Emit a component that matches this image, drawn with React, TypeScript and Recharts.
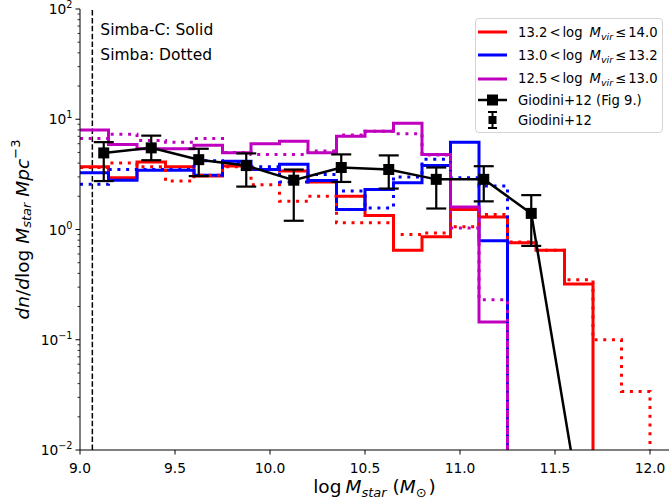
import React from 'react';
import { ErrorBar, Legend, Line, LineChart, ReferenceLine, XAxis, YAxis } from 'recharts';

const FONT = "'DejaVu Sans', sans-serif";

// histogram bin edges in log M_star (bins of 0.15 dex)
const binEdges = [
  9.0, 9.15, 9.3, 9.45, 9.6, 9.75, 9.9, 10.05, 10.2, 10.35, 10.5,
  10.65, 10.8, 10.95, 11.1, 11.25, 11.4, 11.55, 11.7, 11.85, 12.0,
];

// Simba-C (solid), one value per bin, 0 = empty bin
const redSolid = [3.7, 2.95, 4.1, 3.7, 3.05, 3.77, 3.5, 3.39, 2.7, 2.0, 1.34, 0.65, 0.86, 1.52, 1.3, 0.76, 0.65, 0.32, 0, 0];
const blueSolid = [3.27, 2.8, 3.44, 3.45, 3.1, 4.17, 3.5, 3.9, 2.78, 1.52, 2.31, 2.66, 3.8, 6.2, 0.79, 0, 0, 0, 0, 0];
const magentaSolid = [8.0, 5.9, 5.4, 5.4, 5.8, 4.98, 6.0, 6.3, 4.98, 7.0, 7.8, 9.2, 4.8, 1.6, 0.145, 0, 0, 0, 0, 0];

// Simba (dotted)
const redDotted = [3.65, 4.0, 3.7, 2.75, 3.1, 3.7, 2.55, 1.8, 2.0, 1.15, 1.15, 0.9, 0.93, 1.06, 1.37, 0.77, 0.65, 0.35, 0.1, 0.034];
const blueDotted = [2.57, 3.5, 3.5, 3.5, 4.2, 4.0, 3.7, 2.7, 3.15, 2.23, 1.57, 3.0, 4.33, 2.95, 2.48, 0, 0, 0, 0, 0];
const magentaDotted = [6.7, 7.3, 6.4, 6.2, 6.7, 5.0, 4.8, 4.8, 5.15, 7.2, 7.8, 7.4, 4.75, 1.03, 0.23, 0, 0, 0, 0, 0];

// Giodini+12 (Fig 9.), last point lies below the plotted range
const giodiniX = [9.125, 9.375, 9.625, 9.875, 10.125, 10.375, 10.625, 10.875, 11.125, 11.375, 11.625];
const giodiniY = [4.95, 5.5, 4.3, 3.8, 2.8, 3.65, 3.5, 2.85, 2.85, 1.4, 0.0037];
const giodiniHi = [6.2, 7.1, 5.4, 4.9, 3.5, 4.8, 4.7, 3.65, 3.75, 2.05, null];
const giodiniLo = [2.75, 4.25, 3.05, 2.45, 1.2, 2.7, 2.35, 1.55, 1.8, 0.71, null];

const massRanges = [
  ['13.2', '14.0'],
  ['13.0', '13.2'],
  ['12.5', '13.0'],
];
const rangeColors = ['#ff0000', '#0000ff', '#bf00bf'];

const xTicks = [9.0, 9.5, 10.0, 10.5, 11.0, 11.5, 12.0];
const yMajor = [0.01, 0.1, 1, 10, 100];
const yMinorSteps = [2, 3, 4, 5, 6, 7, 8, 9];
const yTicks = [
  ...yMajor,
  ...yMajor.slice(0, -1).flatMap((d) => yMinorSteps.map((k) => +(k * d).toPrecision(2))),
];

const massLimit = 9.065;
const FLOOR = 1e-4; // empty bins fall below the axis

const histRows = (values: number[]) =>
  binEdges.map((x, i) => ({ x, y: i < values.length && values[i] > 0 ? values[i] : FLOOR }));

const giodiniRows = giodiniX.map((x, i) => {
  const hi = giodiniHi[i];
  const lo = giodiniLo[i];
  return {
    x,
    y: giodiniY[i],
    err: hi == null || lo == null ? null : [giodiniY[i] - lo, hi - giodiniY[i]],
  };
});

const solidSeries = [redSolid, blueSolid, magentaSolid];
const dottedSeries = [redDotted, blueDotted, magentaDotted];

function XTick(props: any) {
  const { x, y, payload } = props;
  return (
    <g>
      <line x1={x} x2={x} y1={y} y2={y + 4.5} stroke="#000" strokeWidth={1} />
      <text x={x} y={y + 23} textAnchor="middle" fontFamily={FONT} fontSize={13.8} fill="#000">
        {payload.value.toFixed(1)}
      </text>
    </g>
  );
}

function YTick(props: any) {
  const { x, y, payload } = props;
  const v = payload.value;
  if (!yMajor.includes(v)) {
    return <line x1={x} x2={x - 2.5} y1={y} y2={y} stroke="#000" strokeWidth={0.8} />;
  }
  const exp = Math.round(Math.log10(v));
  return (
    <g>
      <line x1={x} x2={x - 4.5} y1={y} y2={y} stroke="#000" strokeWidth={1} />
      <text x={x - 7.5} y={y + 5} textAnchor="end" fontFamily={FONT} fontSize={13.8} fill="#000">
        10
        <tspan dy={-6} fontSize={9.7}>
          {exp < 0 ? `\u2212${-exp}` : exp}
        </tspan>
      </text>
    </g>
  );
}

function XLabel(props: any) {
  const { x, width } = props.viewBox;
  return (
    <text x={x + width / 2} y={493} textAnchor="middle" fontFamily={FONT} fontSize={18.5} fill="#000">
      log
      <tspan dx={4} fontStyle="italic">M</tspan>
      <tspan fontStyle="italic" fontSize={13} dy={4}>star</tspan>
      <tspan dy={-4}> (</tspan>
      <tspan fontStyle="italic">M</tspan>
      <tspan fontSize={13} dy={4}>{'\u2299'}</tspan>
      <tspan dy={-4} dx={2}>)</tspan>
    </text>
  );
}

function YLabel(props: any) {
  const { y, height } = props.viewBox;
  const cx = 22;
  const cy = y + height / 2;
  return (
    <text
      x={cx}
      y={cy}
      transform={`rotate(-90, ${cx}, ${cy})`}
      textAnchor="middle"
      dominantBaseline="central"
      fontFamily={FONT}
      fontSize={18.5}
      fill="#000"
    >
      <tspan fontStyle="italic">dn</tspan>
      <tspan>/</tspan>
      <tspan fontStyle="italic">d</tspan>
      <tspan>log</tspan>
      <tspan dx={6} fontStyle="italic">M</tspan>
      <tspan fontStyle="italic" fontSize={13} dy={4}>star</tspan>
      <tspan dx={6} dy={-4} fontStyle="italic">Mpc</tspan>
      <tspan fontSize={13} dy={-7}>{'\u22123'}</tspan>
    </text>
  );
}

function SimbaNote(props: any) {
  const { x } = props.viewBox;
  return (
    <g fontFamily={FONT} fontSize={15.5} fill="#000">
      <text x={x + 8} y={35}>Simba-C: Solid</text>
      <text x={x + 8} y={60}>Simba: Dotted</text>
    </g>
  );
}

function MassLabel({ lo, hi }: { lo: string; hi: string }) {
  return (
    <span>
      {lo}
      <span style={{ margin: '0 2px' }}>&lt;</span>
      log<span style={{ marginLeft: 7, fontStyle: 'italic' }}>M</span>
      <span style={{ fontStyle: 'italic', fontSize: '0.72em', position: 'relative', top: 3 }}>vir</span>
      <span style={{ margin: '0 2px' }}>{'\u2264'}</span>
      {hi}
    </span>
  );
}

function LegendBox() {
  const rowY = [13, 36, 59.5, 81, 101];
  const row = (i: number, icon: React.ReactNode, label: React.ReactNode) => (
    <div
      key={i}
      style={{ position: 'absolute', left: 2, top: rowY[i] - 10, height: 20, display: 'flex', alignItems: 'center', whiteSpace: 'nowrap' }}
    >
      <svg width={30} height={20} style={{ display: 'block' }}>
        {icon}
      </svg>
      <span style={{ marginLeft: 10 }}>{label}</span>
    </div>
  );
  return (
    <div
      style={{
        position: 'relative',
        width: 188,
        height: 115,
        boxSizing: 'border-box',
        border: '1px solid #d5d5d5',
        borderRadius: 4,
        background: 'rgba(255,255,255,0.85)',
        fontFamily: FONT,
        fontSize: 13.2,
        color: '#000',
      }}
    >
      {massRanges.map(([lo, hi], i) =>
        row(
          i,
          <line x1={0} x2={29} y1={10} y2={10} stroke={rangeColors[i]} strokeWidth={3} />,
          <MassLabel lo={lo} hi={hi} />,
        ),
      )}
      {row(
        3,
        <g>
          <line x1={0} x2={29} y1={10} y2={10} stroke="#000" strokeWidth={2.5} />
          <rect x={9} y={4.5} width={11} height={11} fill="#000" />
        </g>,
        'Giodini+12 (Fig 9.)',
      )}
      {row(
        4,
        <g stroke="#000" strokeWidth={2}>
          <line x1={14.5} x2={14.5} y1={2} y2={18} />
          <line x1={10} x2={19} y1={2} y2={2} />
          <line x1={10} x2={19} y1={18} y2={18} />
          <rect x={10.5} y={6} width={8} height={8} fill="#000" stroke="none" />
        </g>,
        'Giodini+12',
      )}
    </div>
  );
}

const square = (props: any) => {
  const { cx, cy, index } = props;
  return <rect key={`sq-${index}`} x={cx - 5.5} y={cy - 5.5} width={11} height={11} fill="#000" />;
};

export default function App() {
  return (
    <div style={{ position: 'absolute', left: 0, top: 0, width: 669, height: 500, background: '#fff' }}>
      <LineChart width={669} height={500} margin={{ top: 9, right: 0, bottom: 0, left: 0 }}>
        <XAxis
          dataKey="x"
          type="number"
          domain={[9, 12.1]}
          ticks={xTicks}
          interval={0}
          allowDataOverflow
          height={50}
          tickSize={0}
          tickMargin={0}
          tick={<XTick />}
          stroke="#000"
          label={<XLabel />}
        />
        <XAxis
          xAxisId="top"
          orientation="top"
          dataKey="x"
          type="number"
          domain={[9, 12.1]}
          allowDataOverflow
          height={0}
          tick={false}
          tickLine={false}
          stroke="#000"
        />
        <YAxis
          type="number"
          scale="log"
          domain={[0.01, 100]}
          ticks={yTicks}
          interval={0}
          allowDataOverflow
          width={80}
          tickSize={0}
          tickMargin={0}
          tick={<YTick />}
          stroke="#000"
          label={<YLabel />}
        />
        <ReferenceLine x={massLimit} stroke="#000" strokeWidth={1.5} strokeDasharray="5.5 2.4" label={<SimbaNote />} />
        {solidSeries.map((vals, i) => (
          <Line
            key={`solid-${i}`}
            data={histRows(vals)}
            dataKey="y"
            type="stepAfter"
            stroke={rangeColors[i]}
            strokeWidth={3}
            dot={false}
            activeDot={false}
            isAnimationActive={false}
          />
        ))}
        {dottedSeries.map((vals, i) => (
          <Line
            key={`dotted-${i}`}
            data={histRows(vals)}
            dataKey="y"
            type="stepAfter"
            stroke={rangeColors[i]}
            strokeWidth={3}
            strokeDasharray="3 5.7"
            dot={false}
            activeDot={false}
            isAnimationActive={false}
          />
        ))}
        <Line
          data={giodiniRows}
          dataKey="y"
          type="linear"
          stroke="#000"
          strokeWidth={2.5}
          dot={square}
          activeDot={false}
          isAnimationActive={false}
        >
          <ErrorBar dataKey="err" direction="y" width={10} strokeWidth={2.2} stroke="#000" isAnimationActive={false} />
        </Line>
        <Legend
          layout="horizontal"
          verticalAlign="middle"
          align="center"
          content={<LegendBox />}
          wrapperStyle={{ left: 475, top: 18, width: 188, height: 115 }}
        />
      </LineChart>
    </div>
  );
}
